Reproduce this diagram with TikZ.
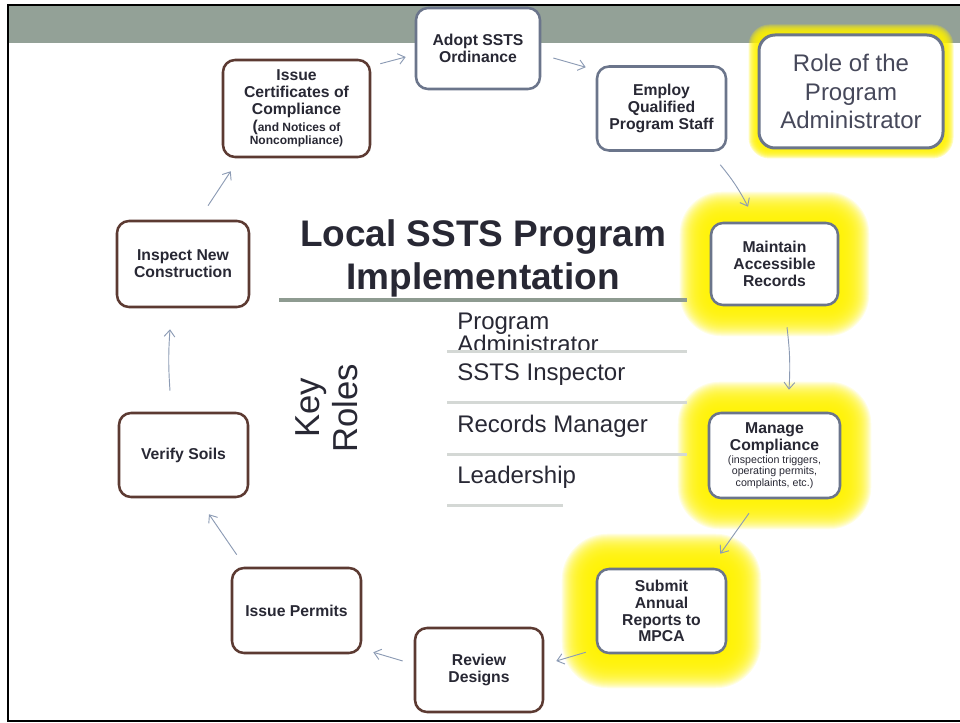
\documentclass[tikz,border=0pt]{standalone}
\usepackage{fontspec}
\setmainfont{Liberation Sans}
\usetikzlibrary{arrows.meta,backgrounds}

\definecolor{band}{RGB}{147,161,151}
\definecolor{rulecol}{RGB}{142,155,145}
\definecolor{listline}{RGB}{212,216,213}
\definecolor{boxgray}{RGB}{107,117,139}
\definecolor{boxbrown}{RGB}{92,58,50}
\definecolor{arrowcol}{RGB}{140,155,180}
\definecolor{txt}{RGB}{40,40,52}
\definecolor{roletxt}{RGB}{70,72,90}

\newcommand{\boxfont}{\fontsize{11.8pt}{12.6pt}\selectfont\bfseries}
\newcommand{\notefont}{\fontsize{9pt}{10.5pt}\selectfont}
\newcommand{\tinyfont}{\fontsize{8pt}{8.8pt}\selectfont\mdseries}
\newcommand{\listfont}{\fontsize{18pt}{21pt}\selectfont}

% soft yellow halo behind a node: #1 node, #2 reach, #3 opacity
\newcommand{\glowbox}[3]{%
  \foreach \r in {#2}
    \fill[fill=yellow, opacity=#3, rounded corners={9pt+0.75pt*\r}]
      ([shift={(-\r,\r)}]#1.south west) rectangle ([shift={(\r,-\r)}]#1.north east);}

\tikzset{
  basebox/.style={rectangle, rounded corners=9pt, fill=white, line width=1.9pt,
    align=center, text=txt, font=\boxfont, inner sep=2pt,
    minimum width=96.75pt, minimum height=63pt},
  graybox/.style={basebox, draw=boxgray},
  brownbox/.style={basebox, draw=boxbrown},
  flow/.style={draw=arrowcol, line width=0.7pt, -{Straight Barb[length=5pt,width=8pt]}},
  item/.style={inner sep=0pt, text=txt, font=\listfont},
}

\begin{document}
\begin{tikzpicture}[x=0.75pt,y=-0.75pt]
\useasboundingbox (0,0) rectangle (960,723);

% slide frame
\draw[black, line width=1.9pt] (960,5) -- (8,5) -- (8,721) -- (960,721);

% cycle of steps
\node[graybox, minimum width=93pt, minimum height=60.75pt] (adopt) at (478,48.5) {Adopt SSTS\\Ordinance};
\node[graybox] (employ) at (661.5,108.5) {Employ\\Qualified\\Program Staff};
\node[graybox, minimum width=95.25pt, minimum height=61.5pt] (maintain) at (774.5,264) {Maintain\\Accessible\\Records};
\node[graybox, minimum width=98.25pt, minimum height=63.75pt] (manage) at (774.5,455.5)
  {Manage\\Compliance\\[-3pt]{\tinyfont (inspection triggers,}\\[-4pt]{\tinyfont operating permits,}\\[-4pt]{\tinyfont complaints, etc.)}};
\node[graybox] (submit) at (661.5,611) {Submit\\Annual\\Reports to\\MPCA};
\node[brownbox, minimum width=96pt] (review) at (479,670) {Review\\Designs};
\node[brownbox, minimum height=63.75pt] (permits) at (296.5,610.5) {Issue Permits};
\node[brownbox] (verify) at (183.5,455) {Verify Soils};
\node[brownbox, minimum width=99pt, minimum height=64.5pt] (inspect) at (183,264) {Inspect New\\Construction};
\node[brownbox, minimum width=110.25pt, minimum height=72.75pt] (cert) at (296.5,108.5)
  {Issue\\Certificates of\\Compliance\\({\notefont and Notices of}\\[-2.4pt]{\notefont Noncompliance)}};

\node[rectangle, rounded corners=12pt, fill=white, draw=boxgray, line width=2.25pt,
  minimum width=138pt, minimum height=84.75pt, align=center, text=roletxt,
  font={\fontsize{18pt}{21.4pt}\selectfont}] (role) at (851,91.5) {Role of the\\Program\\Administrator};

% halos and header band
\begin{pgfonlayer}{background}
  \fill[band] (9,6) rectangle (960,43);
  \glowbox{maintain}{1,...,30}{0.1}
  \glowbox{manage}{1,...,30}{0.1}
  \glowbox{submit}{1,...,34}{0.1}
  \glowbox{role}{1,...,9}{0.24}
\end{pgfonlayer}

% arrows round the cycle
\draw[flow] ([shift={(9,5)}]cert.north east) -- ([shift={(-9,8.5)}]adopt.west);
\draw[flow] ([shift={(12,9.5)}]adopt.east) -- ([shift={(-10,2)}]employ.north west);
\draw[flow] ([shift={(-7,13)}]employ.south east) to[bend left=6] ([shift={(-26.5,-15)}]maintain.north);
\draw[flow] ([shift={(12.5,21)}]maintain.south) to[bend left=5] ([shift={(14.5,-22)}]manage.north);
\draw[flow] ([shift={(-25.5,14)}]manage.south) -- ([shift={(-7,-14)}]submit.north east);
\draw[flow] ([shift={(-10,-2)}]submit.south west) -- ([shift={(12,-9)}]review.east);
\draw[flow] ([shift={(-11,-9)}]review.west) -- ([shift={(11,-2)}]permits.south east);
\draw[flow] ([shift={(6,-12)}]permits.north west) -- ([shift={(25.5,16)}]verify.south);
\draw[flow] ([shift={(-13.5,-21)}]verify.north) to[bend left=4] ([shift={(-13,21)}]inspect.south);
\draw[flow] ([shift={(25,-14)}]inspect.north) -- ([shift={(9,13)}]cert.south west);

% title and key roles
\node[align=center, text=txt, font={\fontsize{27.75pt}{32.25pt}\selectfont\bfseries}] (title) at (483,258)
  {Local SSTS Program\\Implementation};
\draw[rulecol, line width=2.3pt] (279,300) -- (687,300);

\node[rotate=90, align=center, text=txt, font={\fontsize{26pt}{28.5pt}\selectfont}] (keyroles) at (327,408) {Key\\Roles};

\node[item, anchor=north west, align=left, font={\fontsize{18pt}{17.3pt}\selectfont}] (progadmin) at (457,313) {Program\\Administrator};
\node[item, anchor=base west] (inspector) at (457,381) {SSTS Inspector};
\node[item, anchor=base west] (recmgr) at (457,432) {Records Manager};
\node[item, anchor=base west] (leader) at (457,483) {Leadership};
\draw[listline, line width=2.25pt] (447,352) -- (687,352);
\draw[listline, line width=2.25pt] (447,403) -- (687,403);
\draw[listline, line width=2.25pt] (447,454) -- (687,454);
\draw[listline, line width=2.25pt] (447,505) -- (563,505);
\end{tikzpicture}
\end{document}
